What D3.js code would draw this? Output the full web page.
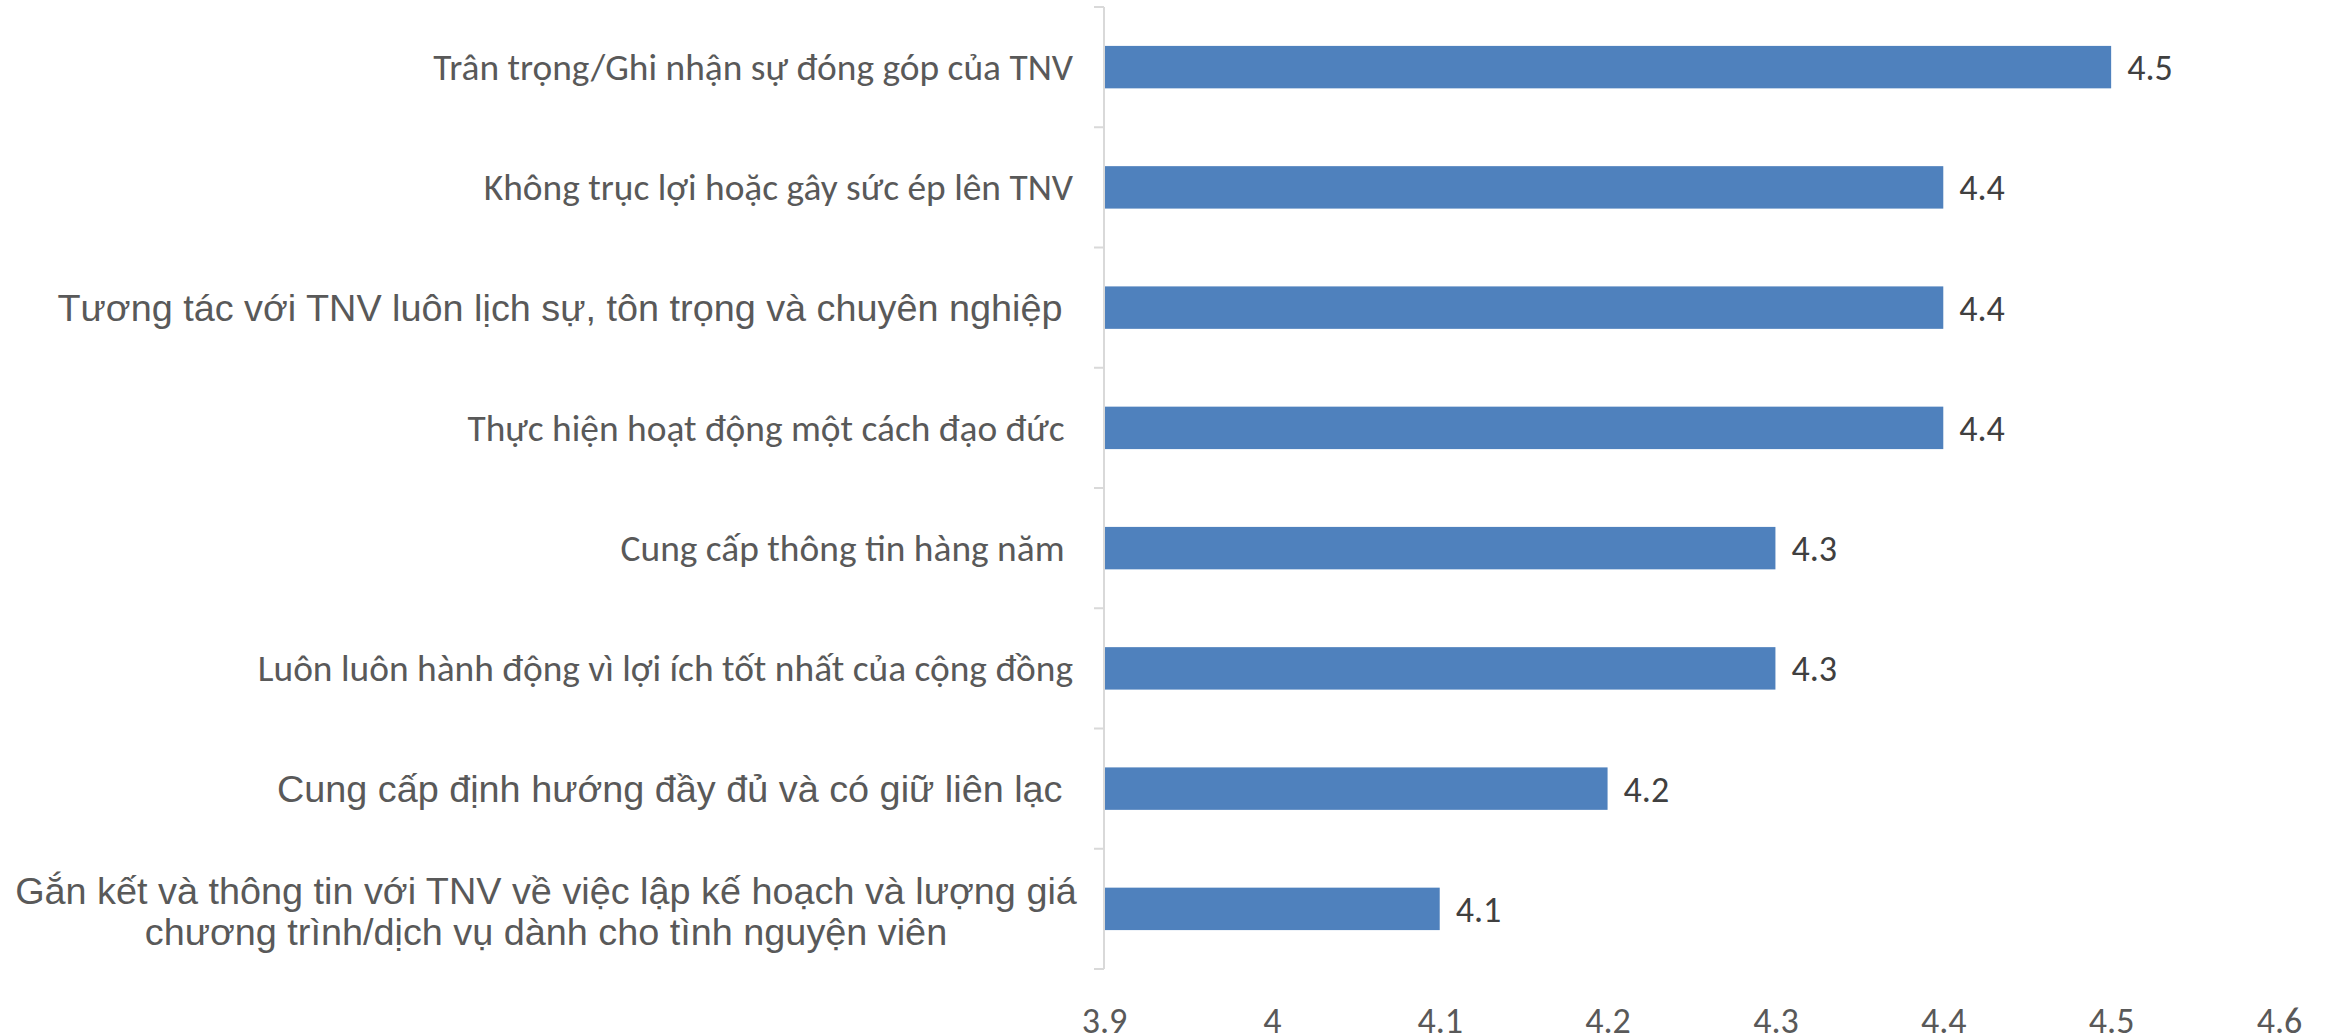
<!DOCTYPE html>
<html lang="vi">
<head>
    <meta charset="UTF-8">
    <title>TNV chart</title>
    <script src="https://d3js.org/d3.v7.min.js"></script>
    <style>
        body { margin: 0; background: #ffffff; }
        text { white-space: pre; }
    </style>
</head>
<body>
<div id="chart"></div>
<script>
    // categories, top to bottom (each entry is a list of lines)
    const categories = [
        ['Trân trọng/Ghi nhận sự đóng góp của TNV'],
        ['Không trục lợi hoặc gây sức ép lên TNV'],
        ['Tương tác với TNV luôn lịch sự, tôn trọng và chuyên nghiệp '],
        ['Thực hiện hoạt động một cách đạo đức '],
        ['Cung cấp thông tin hàng năm '],
        ['Luôn luôn hành động vì lợi ích tốt nhất của cộng đồng'],
        ['Cung cấp định hướng đầy đủ và có giữ liên lạc '],
        ['Gắn kết và thông tin với TNV về việc lập kế hoạch và lượng giá',
         'chương trình/dịch vụ dành cho tình nguyện viên']
    ];
    const values = [4.5, 4.4, 4.4, 4.4, 4.3, 4.3, 4.2, 4.1];
    // which labels use the Arial look vs the Calibri look
    const labelFonts = ['c', 'c', 'a', 'c', 'c', 'c', 'a', 'a'];
    const xTicks = [3.9, 4, 4.1, 4.2, 4.3, 4.4, 4.5, 4.6];

    const width = 2331, height = 1035;
    const calibri = "Carlito, Lato, 'Noto Sans', sans-serif";
    const arial = "Arial, 'Liberation Sans', sans-serif";

    const svg = d3.select('#chart').append('svg')
        .attr('width', width)
        .attr('height', height);

    const x = d3.scaleLinear().domain([3.9, 4.6]).range([1104, 2279]);
    const y = d3.scaleBand()
        .domain(d3.range(categories.length))
        .range([7, 969])
        .paddingInner(0.647)
        .paddingOuter(0.647 / 2);

    // bars
    svg.append('g').selectAll('rect')
        .data(values)
        .join('rect')
        .attr('x', x(3.9))
        .attr('y', (d, i) => y(i))
        .attr('width', d => x(d) - x(3.9))
        .attr('height', y.bandwidth())
        .attr('fill', '#4F81BD');

    // vertical category axis
    const axisG = svg.append('g');
    axisG.append('line')
        .attr('x1', x(3.9)).attr('x2', x(3.9))
        .attr('y1', y.range()[0]).attr('y2', y.range()[1])
        .attr('stroke', '#D9D9D9').attr('stroke-width', 2);
    axisG.selectAll('line.tick')
        .data(d3.range(categories.length + 1))
        .join('line')
        .attr('class', 'tick')
        .attr('x1', x(3.9) - 10).attr('x2', x(3.9))
        .attr('y1', i => y.range()[0] + i * y.step())
        .attr('y2', i => y.range()[0] + i * y.step())
        .attr('stroke', '#D9D9D9').attr('stroke-width', 2);

    // category labels
    const labelG = svg.append('g');
    categories.forEach((lines, i) => {
        const cy = y(i) + y.bandwidth() / 2;
        const isArial = labelFonts[i] === 'a';
        const multi = lines.length > 1;
        const lx = multi ? 546 : 1073;
        const t = labelG.append('text')
            .attr('x', lx)
            .attr('y', cy)
            .attr('text-anchor', multi ? 'middle' : 'end')
            .attr('font-family', isArial ? arial : calibri)
            .attr('font-size', isArial ? 37.8 : 37.4)
            .attr('fill', '#595959');
        lines.forEach((line, j) => {
            t.append('tspan')
                .attr('x', lx)
                .attr('dy', j === 0 ? (multi ? -5 : 13) : 41)
                .text(line);
        });
    });

    // data labels
    svg.append('g').selectAll('text')
        .data(values)
        .join('text')
        .attr('x', d => x(d) + 16)
        .attr('y', (d, i) => y(i) + y.bandwidth() / 2)
        .attr('dy', 13)
        .attr('font-family', calibri)
        .attr('font-size', 36)
        .attr('fill', '#404040')
        .text(d => d3.format('.1f')(d));

    // value axis labels (no line)
    const xAxis = d3.axisBottom(x)
        .tickValues(xTicks)
        .tickSize(0)
        .tickFormat(d => String(d));
    const xg = svg.append('g')
        .attr('transform', 'translate(0, 1004)')
        .call(xAxis);
    xg.select('.domain').remove();
    xg.selectAll('text')
        .attr('font-family', calibri)
        .attr('font-size', 36)
        .attr('fill', '#595959');
</script>
</body>
</html>
